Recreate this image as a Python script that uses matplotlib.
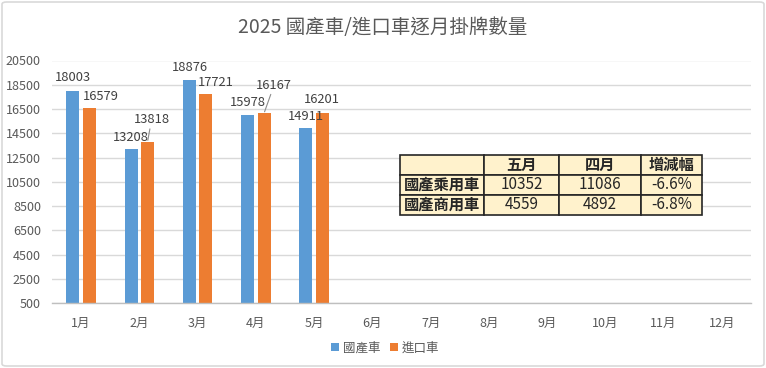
import matplotlib
matplotlib.use("Agg")
import matplotlib.pyplot as plt
import numpy as np
from matplotlib.patches import FancyBboxPatch

plt.rcParams['font.family'] = ['Noto Sans CJK TC', 'DejaVu Sans']

title = "2025 國產車/進口車逐月掛牌數量"
months = ["1月", "2月", "3月", "4月", "5月", "6月", "7月", "8月", "9月", "10月", "11月", "12月"]
domestic = [18003, 13208, 18876, 15978, 14911]
imported = [16579, 13818, 17721, 16167, 16201]
series_names = ["國產車", "進口車"]
y_ticks = [500, 2500, 4500, 6500, 8500, 10500, 12500, 14500, 16500, 18500, 20500]

table_header = ["", "五月", "四月", "增減幅"]
table_row_labels = ["國產乘用車", "國產商用車"]
may_values = [10352, 4559]
april_values = [11086, 4892]
change_pct = [-6.6, -6.8]

# label offsets in pixels (dx, dy) relative to bar top center
dom_offsets = [(0, 13), (0, 12), (0, 13), (0, 13), (0, 12)]
imp_offsets = [(11, 12), (4, 22), (10, 12), (10, 28), (0, 13)]
imp_leader = [False, True, False, True, False]

BLUE = "#5B9BD5"
ORANGE = "#ED7D31"
GRID = "#D9D9D9"
TXT = "#595959"

fig = plt.figure(figsize=(7.66, 3.68), dpi=100)
ax = fig.add_axes([52/766, 1-303.3/368, 699/766, (303.3-60.5)/368])

x = np.arange(len(months))
w = 0.225
off = 0.141
bd = ax.bar(x[:len(domestic)] - off, domestic, width=w, color=BLUE, label=series_names[0], zorder=3)
bi = ax.bar(x[:len(imported)] + off, imported, width=w, color=ORANGE, label=series_names[1], zorder=3)

for i, v in enumerate(domestic):
    dx, dy = dom_offsets[i]
    ax.annotate(str(v), xy=(x[i] - off, v), xytext=(dx, dy), textcoords="offset pixels",
                ha="center", va="center", fontsize=9.3, color="#404040", zorder=5)
for i, v in enumerate(imported):
    dx, dy = imp_offsets[i]
    ap = dict(arrowstyle="-", color="#8C8C8C", lw=0.8, shrinkA=0, shrinkB=1) if imp_leader[i] else None
    ax.annotate(str(v), xy=(x[i] + off, v), xytext=(dx, dy), textcoords="offset pixels",
                ha="center", va="center", fontsize=9.3, color="#404040", zorder=5,
                arrowprops=ap)

ax.set_xlim(-0.5, len(months) - 0.5)
ax.set_ylim(y_ticks[0], y_ticks[-1])
ax.set_yticks(y_ticks)
ax.set_yticklabels([str(t) for t in y_ticks])
ax.set_xticks(x)
ax.set_xticklabels(months)
ax.tick_params(axis="both", length=0, labelsize=9, colors=TXT)
ax.tick_params(axis="x", pad=10)
ax.tick_params(axis="y", pad=8)
ax.grid(axis="y", color=GRID, linewidth=1, zorder=0)
for s in ["top", "right", "left"]:
    ax.spines[s].set_visible(False)
ax.spines["bottom"].set_color("#BFBFBF")
ax.spines["bottom"].set_linewidth(1)
ax.spines["bottom"].set_zorder(4)

fig.text(0.5, 1-27/368, title, ha="center", va="center", fontsize=14, color=TXT)

leg = fig.legend(handles=[bd, bi], labels=series_names, loc="center", bbox_to_anchor=(385/766, 1-348/368),
                 ncol=2, frameon=False, fontsize=9, handlelength=0.6, handleheight=0.6,
                 handletextpad=0.3, columnspacing=0.8, labelcolor=TXT)

# table
cell_text = [table_header]
for i in range(len(table_row_labels)):
    cell_text.append([table_row_labels[i], str(may_values[i]), str(april_values[i]), f"{change_pct[i]:.1f}%"])
tl = (400-52)/699
tr = (701.7-52)/699
tt = (303.3-154.7)/242.8
tb = (303.3-215)/242.8
colw = np.array([84.3, 75, 81.4, 61.0])
colw = colw / colw.sum()
tab = ax.table(cellText=cell_text, colWidths=list(colw), cellLoc="center",
               bbox=[tl, tb, tr - tl, tt - tb], zorder=6)
tab.auto_set_font_size(False)
for (r, c), cell in tab.get_celld().items():
    cell.set_facecolor("#FFF2CC")
    cell.set_edgecolor("#262626")
    cell.set_linewidth(1.2)
    cell.get_text().set_fontsize(11)
    cell.get_text().set_color("#262626")
    if r == 0 or c == 0:
        cell.get_text().set_fontweight("bold")

# figure border
border = FancyBboxPatch((2/766, 2/368), 762/766, 364/368, boxstyle="round,pad=0,rounding_size=0.006",
                        transform=fig.transFigure, facecolor="none", edgecolor="#D9D9D9", linewidth=1.2)
fig.patches.append(border)

fig.savefig("out.png", dpi=100)
